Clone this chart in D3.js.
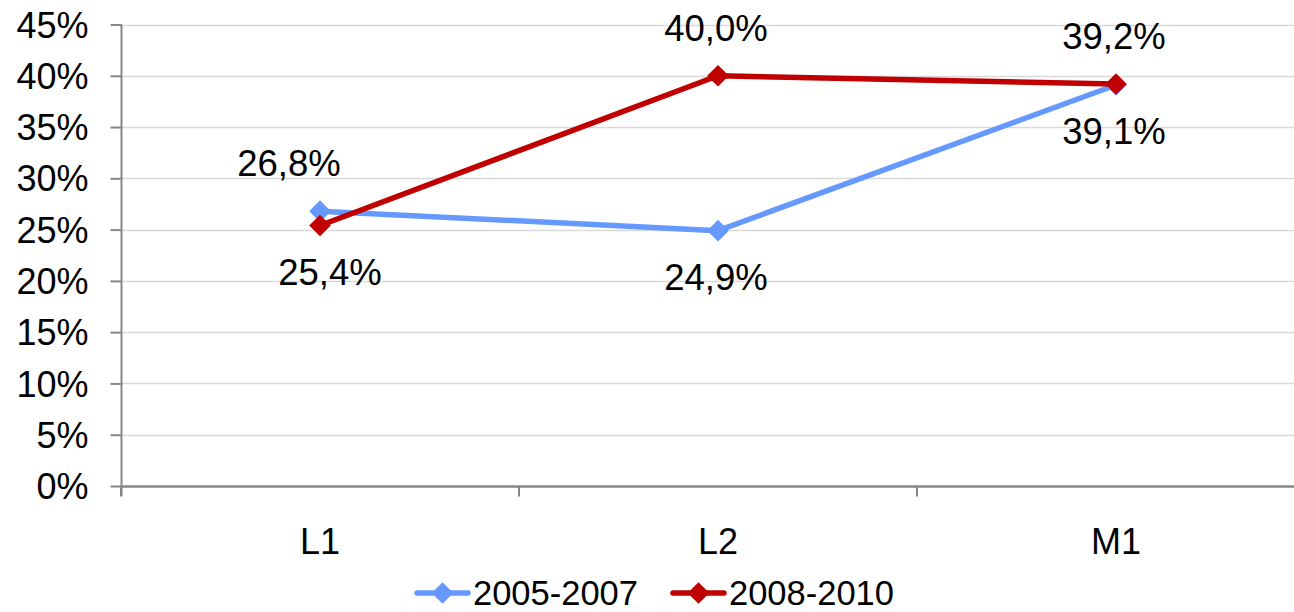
<!DOCTYPE html>
<html>
<head>
<meta charset="utf-8">
<script src="https://cdn.jsdelivr.net/npm/d3@7"></script>
<style>
  html, body { margin: 0; padding: 0; background: #fff; overflow: hidden; }
  text { font-family: "Liberation Sans", Arial, sans-serif; fill: #000; }
</style>
</head>
<body>
<div id="chart"></div>
<script>
// categories and series
const categories = ['L1', 'L2', 'M1'];
const seriesNames = ['2005-2007', '2008-2010'];
const values2005 = [26.8, 24.9, 39.1];
const values2008 = [25.4, 40.0, 39.2];
const yTicks = [0, 5, 10, 15, 20, 25, 30, 35, 40, 45];

const colors = ['#6699FF', '#C00000'];
// label above (-1) or below (+1) each point, plus a small sideways nudge
const labelSide2005 = [-1, 1, 1];
const labelSide2008 = [1, -1, -1];
const labelNudge2005 = [-29, 0, 0];
const labelNudge2008 = [12, 0, 0];

const W = 1294, H = 612;
const tickFont = 36;
const labelFont = 36.5;
const legendFont = 34.5;

const svg = d3.select('#chart')
    .append('svg')
    .attr('width', W)
    .attr('height', H);

const x = d3.scaleBand()
    .domain(categories)
    .range([121, 1315])
    .padding(0);

const y = d3.scaleLinear()
    .domain([0, 45])
    .range([486, 24.5]);

// gridlines
svg.append('g')
    .selectAll('line')
    .data(yTicks.filter(d => d > 0))
    .enter()
    .append('line')
    .attr('x1', 121)
    .attr('x2', W)
    .attr('y1', d => Math.round(y(d)) + 0.5)
    .attr('y2', d => Math.round(y(d)) + 0.5)
    .attr('stroke', '#D9D9D9')
    .attr('stroke-width', 1.5);

// y axis
const yAxis = svg.append('g')
    .attr('transform', 'translate(121.5,0)')
    .call(d3.axisLeft(y)
        .tickValues(yTicks)
        .tickFormat(d => d + '%')
        .tickSize(11)
        .tickPadding(22));
yAxis.select('.domain').attr('stroke', '#868686').attr('stroke-width', 2)
    .attr('d', `M0,${y(45)}V${y(0) + 10}`);
yAxis.selectAll('.tick line').attr('stroke', '#868686').attr('stroke-width', 2);
yAxis.selectAll('.tick text')
    .attr('font-size', tickFont + 'px')
    .attr('font-family', '"Liberation Sans", Arial, sans-serif')
    .attr('fill', '#000')
    .attr('dy', '0.35em');

// x axis
const xAxis = svg.append('g')
    .attr('transform', `translate(0,${Math.round(y(0)) + 0.5})`)
    .call(d3.axisBottom(x).tickSize(0).tickPadding(42));
xAxis.select('.domain').attr('stroke', '#868686').attr('stroke-width', 2.5)
    .attr('d', `M121,0H${W}`);
xAxis.selectAll('.tick text')
    .attr('font-size', tickFont + 'px')
    .attr('font-family', '"Liberation Sans", Arial, sans-serif')
    .attr('fill', '#000');

// category separator ticks
const sepTicks = categories.map(c => x(c)).concat([x(categories[categories.length - 1]) + x.bandwidth()]);
xAxis.selectAll('.sep')
    .data(sepTicks)
    .enter()
    .append('line')
    .attr('class', 'sep')
    .attr('x1', d => d)
    .attr('x2', d => d)
    .attr('y1', 0)
    .attr('y2', 10)
    .attr('stroke', '#868686')
    .attr('stroke-width', 2);

const cx = c => x(c) + x.bandwidth() / 2;

const series = [
    { name: seriesNames[0], values: values2005, color: colors[0], side: labelSide2005, nudge: labelNudge2005 },
    { name: seriesNames[1], values: values2008, color: colors[1], side: labelSide2008, nudge: labelNudge2008 }
];

const line = d3.line()
    .x((d, i) => cx(categories[i]))
    .y(d => y(d));

const diamond = d3.symbol().type(d3.symbolDiamond2).size(300);

series.forEach(s => {
    svg.append('path')
        .datum(s.values)
        .attr('d', line)
        .attr('fill', 'none')
        .attr('stroke', s.color)
        .attr('stroke-width', 5.5)
        .attr('stroke-linejoin', 'round');

    svg.selectAll(null)
        .data(s.values)
        .enter()
        .append('path')
        .attr('d', diamond)
        .attr('transform', (d, i) => `translate(${cx(categories[i])},${y(d)})`)
        .attr('fill', s.color);
});

// data labels
series.forEach(s => {
    svg.selectAll(null)
        .data(s.values)
        .enter()
        .append('text')
        .attr('x', (d, i) => cx(categories[i]) - 2 + s.nudge[i])
        .attr('y', (d, i) => y(d) + (s.side[i] < 0 ? -35 : 59))
        .attr('text-anchor', 'middle')
        .attr('font-size', labelFont + 'px')
        .text(d => d.toFixed(1).replace('.', ',') + '%');
});

// legend
const legend = svg.append('g').attr('transform', 'translate(417,593)');
const legendX = [0, 256];
series.forEach((s, i) => {
    const g = legend.append('g').attr('transform', `translate(${legendX[i]},0)`);
    g.append('line')
        .attr('x1', 0).attr('x2', 51)
        .attr('y1', 0).attr('y2', 0)
        .attr('stroke', s.color)
        .attr('stroke-width', 5.5)
        .attr('stroke-linecap', 'round');
    g.append('path')
        .attr('d', diamond)
        .attr('transform', 'translate(25.5,0)')
        .attr('fill', s.color);
    g.append('text')
        .attr('x', 56)
        .attr('y', 12)
        .attr('font-size', legendFont + 'px')
        .text(s.name);
});
</script>
</body>
</html>
